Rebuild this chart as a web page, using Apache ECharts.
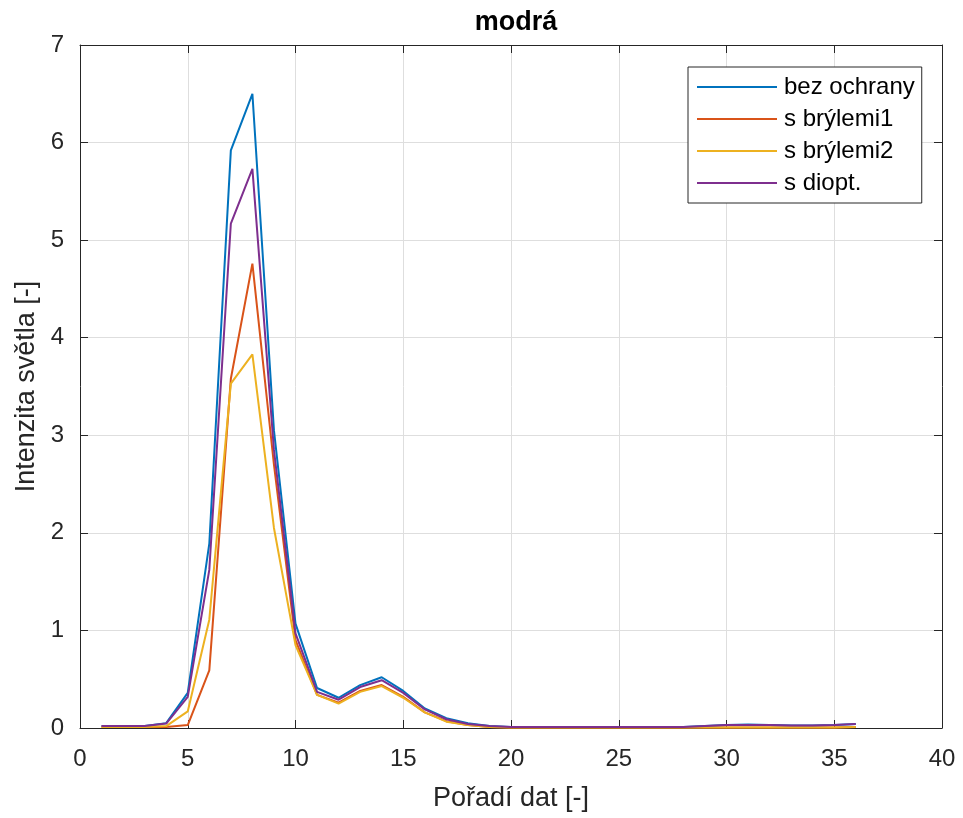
<!DOCTYPE html>
<html>
<head>
<meta charset="utf-8">
<script src="https://cdn.jsdelivr.net/npm/echarts@6/dist/echarts.min.js"></script>
<style>html,body{margin:0;padding:0;background:#fff}#c{width:963px;height:818px}</style>
</head>
<body>
<div id="c"></div>
<script>
const xValues = [1,2,3,4,5,6,7,8,9,10,11,12,13,14,15,16,17,18,19,20,21,22,23,24,25,26,27,28,29,30,31,32,33,34,35,36];
const bezOchrany = [0.02,0.02,0.02,0.05,0.36,1.89,5.92,6.5,3.05,1.07,0.41,0.31,0.44,0.52,0.38,0.2,0.1,0.05,0.02,0.01,0.01,0.01,0.01,0.01,0.01,0.01,0.01,0.01,0.02,0.03,0.035,0.03,0.025,0.025,0.03,0.04];
const sBrylemi1 = [0.01,0.01,0.01,0.01,0.03,0.59,3.58,4.76,2.7,0.9,0.34,0.26,0.38,0.44,0.32,0.16,0.07,0.03,0.01,0.005,0.005,0.005,0.005,0.005,0.005,0.005,0.005,0.005,0.005,0.005,0.005,0.005,0.005,0.005,0.005,0.01];
const sBrylemi2 = [0.01,0.01,0.01,0.02,0.17,1.11,3.53,3.83,2.05,0.85,0.34,0.25,0.37,0.43,0.31,0.16,0.065,0.03,0.01,0.005,0.005,0.005,0.005,0.005,0.005,0.005,0.005,0.005,0.005,0.005,0.005,0.005,0.005,0.005,0.005,0.01];
const sDiopt = [0.02,0.02,0.02,0.045,0.32,1.62,5.17,5.73,2.85,0.97,0.37,0.29,0.42,0.49,0.36,0.19,0.09,0.04,0.02,0.01,0.01,0.01,0.01,0.01,0.01,0.01,0.01,0.01,0.02,0.03,0.03,0.03,0.025,0.025,0.03,0.04];
const seriesNames = ['bez ochrany','s brýlemi1','s brýlemi2','s diopt.'];
const seriesColors = ['#0072BD','#D95319','#EDB120','#7E2F8E'];
const seriesValues = [bezOchrany, sBrylemi1, sBrylemi2, sDiopt];
const titleText = 'modrá';
const xName = 'Pořadí dat [-]';
const yName = 'Intenzita světla [-]';

const font = 'Liberation Sans, Arial, Helvetica, sans-serif';
const axisColor = '#262626';
const chart = echarts.init(document.getElementById('c'), null, {renderer:'canvas'});

function pairs(v){ return v.map((y,i)=>[xValues[i], y]); }

const baseAxis = {
  axisLine:{show:true, onZero:false, lineStyle:{color:axisColor, width:1}},
  axisTick:{show:true, inside:true, length:8, lineStyle:{color:axisColor, width:1}},
};

chart.setOption({
  animation:false,
  backgroundColor:'#fff',
  title:{text:titleText, left:511, top:4, textAlign:'center',
    textStyle:{fontFamily:font, fontSize:27, fontWeight:'bold', color:'#000'}},
  grid:{left:80, right:21, top:45, bottom:90, show:false},
  legend:{
    orient:'vertical', left:688, top:67,
    data:seriesNames,
    icon:'rect', itemWidth:80, itemHeight:2, itemGap:8,
    padding:[8,7,8,9],
    backgroundColor:'#fff', borderColor:axisColor, borderWidth:1,
    textStyle:{fontFamily:font, fontSize:24, color:'#000', lineHeight:24, padding:[0,0,0,2]}
  },
  xAxis:[
    Object.assign({}, baseAxis, {
      type:'value', min:0, max:40, interval:5, position:'bottom',
      name:xName, nameLocation:'middle', nameGap:57,
      nameTextStyle:{fontFamily:font, fontSize:27, color:axisColor},
      axisLabel:{fontFamily:font, fontSize:24, color:axisColor, margin:19},
      splitLine:{show:true, lineStyle:{color:'#dedede', width:1}}
    }),
    Object.assign({}, baseAxis, {
      type:'value', min:0, max:40, interval:5, position:'top',
      axisLabel:{show:false}, splitLine:{show:false}
    })
  ],
  yAxis:[
    Object.assign({}, baseAxis, {
      type:'value', min:0, max:7, interval:1, position:'left',
      name:yName, nameLocation:'middle', nameGap:39,
      nameTextStyle:{fontFamily:font, fontSize:27, color:axisColor},
      axisLabel:{fontFamily:font, fontSize:24, color:axisColor, margin:16},
      splitLine:{show:true, lineStyle:{color:'#dedede', width:1}}
    }),
    Object.assign({}, baseAxis, {
      type:'value', min:0, max:7, interval:1, position:'right',
      axisLabel:{show:false}, splitLine:{show:false}
    })
  ],
  series: seriesNames.map((n,i)=>({
    name:n, type:'line', data:pairs(seriesValues[i]),
    xAxisIndex:0, yAxisIndex:0,
    symbol:'none', lineStyle:{color:seriesColors[i], width:2},
    itemStyle:{color:seriesColors[i]}
  }))
});
</script>
</body>
</html>
